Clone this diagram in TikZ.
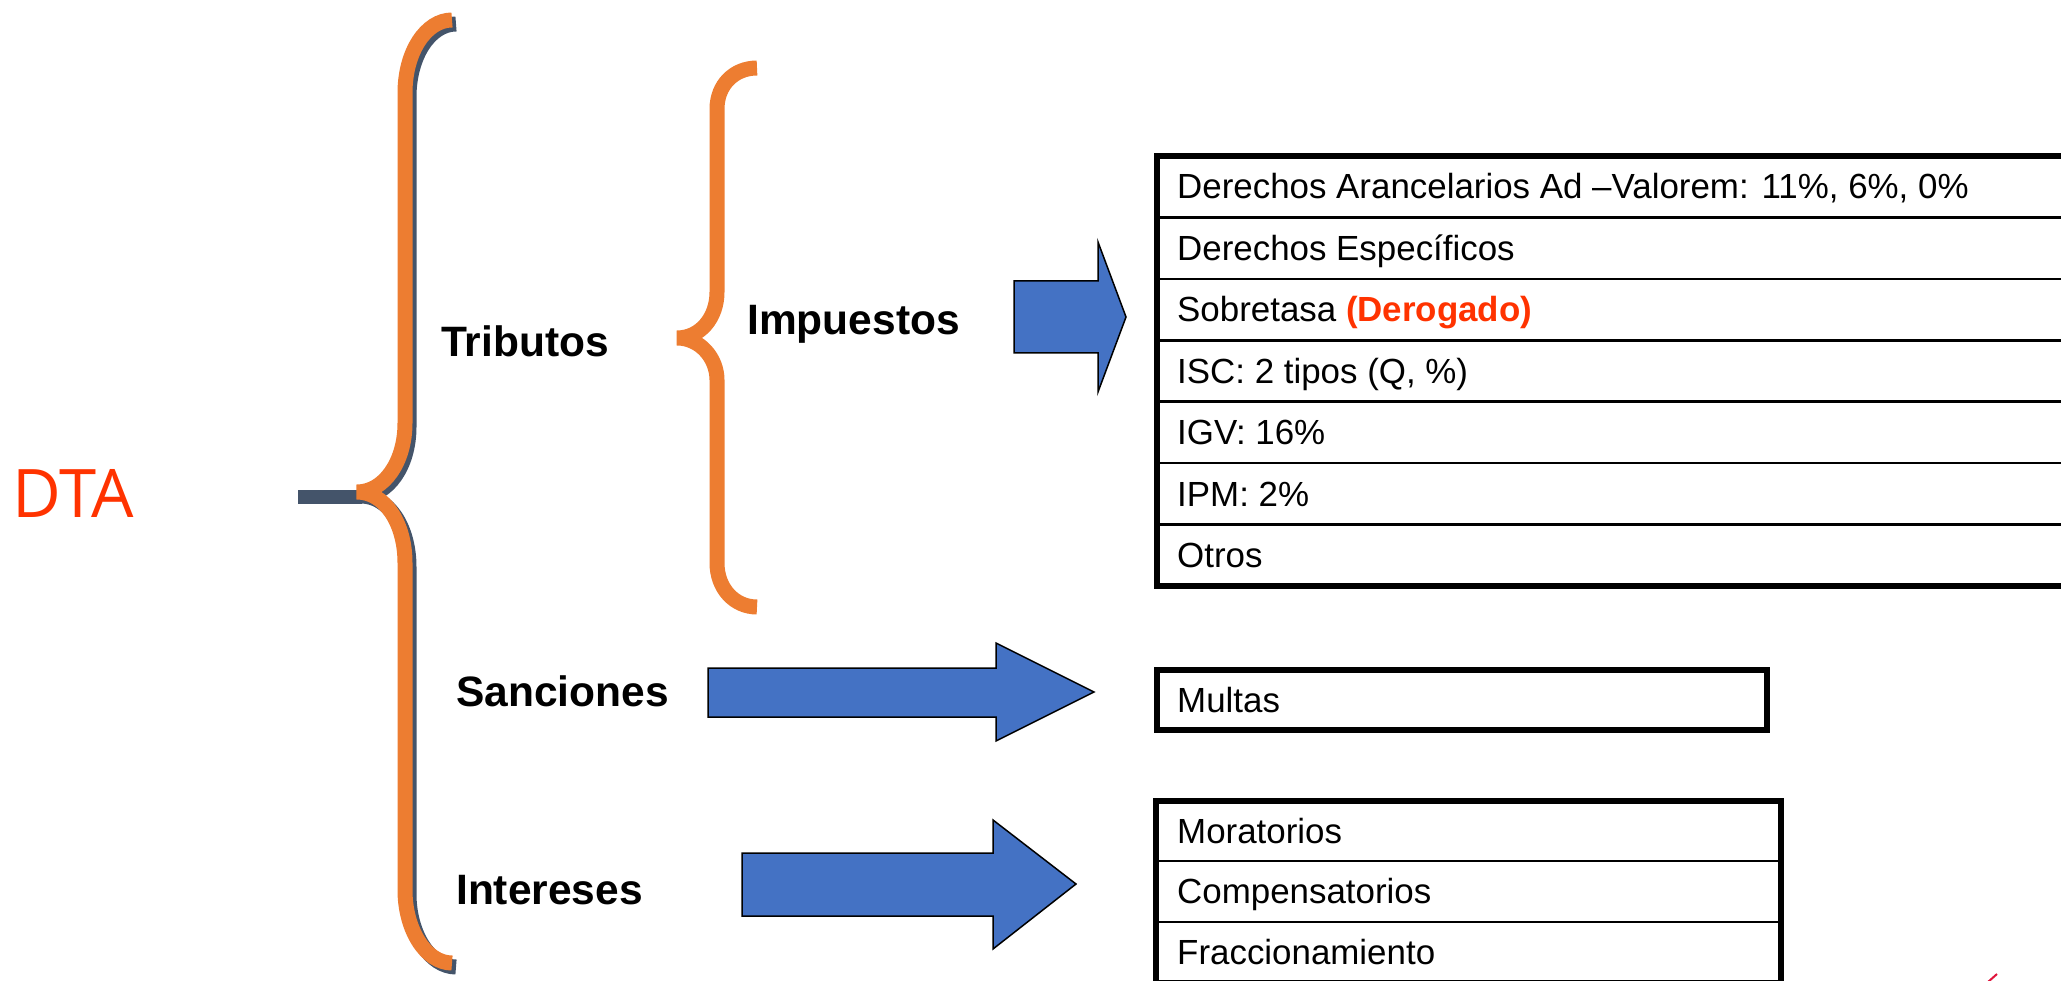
\documentclass[tikz,border=0pt]{standalone}
\usepackage{fontspec}
\setmainfont{Liberation Sans}
\newfontfamily\dtafont{Open Sans}
\definecolor{brOrange}{HTML}{ED7D31}
\definecolor{brDark}{HTML}{44546A}
\definecolor{arBlue}{HTML}{4472C4}
\definecolor{txtRed}{HTML}{FF3300}
\definecolor{markRed}{HTML}{E0143C}
\begin{document}
\begin{tikzpicture}[x=1pt,y=-1pt,
  bracepath/.style={line width=15pt, draw=brOrange, line cap=butt},
  braceshadow/.style={line width=15pt, draw=brDark, line cap=butt},
  blockarrow/.style={fill=arBlue, draw=black, line width=1.5pt, line join=miter},
  tblouter/.style={draw=black, line width=6pt},
  tblinner/.style={draw=black, line width=2.5pt},
  lbl/.style={font=\fontsize{42.5}{48}\selectfont\bfseries, anchor=base west, inner sep=0pt},
  cell/.style={font=\fontsize{34.9}{40}\selectfont, anchor=base west, inner sep=0pt}]
\useasboundingbox (0,0) rectangle (2061,981);
\clip (0,0) rectangle (2061,981);

% DTA
\node[anchor=base west, inner sep=0pt, text=txtRed, font=\dtafont\fontsize{67}{75}\selectfont] (dta) at (12,517) {DTA};

% stem line
\coordinate (stemL) at (298,497);
\coordinate (stemR) at (362,497);
\draw[line width=14pt, brDark] (stemL) -- (stemR);

% big brace shadow
\draw[braceshadow, shift={(4,4)}] (452,20) .. controls (426,20) and (405,52) .. (405,93) -- (405,423)
  .. controls (405,462) and (384,492) .. (357,492)
  .. controls (384,492) and (405,522) .. (405,563) -- (405,890)
  .. controls (405,930) and (426,963) .. (452,963);
% big brace
\draw[bracepath] (452,20) .. controls (426,20) and (405,52) .. (405,93) -- (405,423)
  .. controls (405,462) and (384,492) .. (357,492)
  .. controls (384,492) and (405,522) .. (405,563) -- (405,890)
  .. controls (405,930) and (426,963) .. (452,963);

% small brace
\draw[bracepath] (757,68) .. controls (734,68) and (717,85) .. (717,109) -- (717,292)
  .. controls (717,318) and (700,338) .. (677,338)
  .. controls (700,338) and (717,358) .. (717,380) -- (717,563)
  .. controls (717,588) and (734,607) .. (757,607);

% labels
\node[lbl] (trib) at (441,356) {Tributos};
\node[lbl] (imp) at (747,335) {Impuestos};
\node[lbl] (sanc) at (456,706) {Sanciones};
\node[lbl] (inte) at (456,904) {Intereses};

% block arrows
\draw[blockarrow] (1014,281) -- (1098,281) -- (1098,242) -- (1126,317) -- (1098,392) -- (1098,353) -- (1014,353) -- cycle;
\draw[blockarrow] (708,668) -- (996,668) -- (996,643) -- (1094,692) -- (996,741) -- (996,717) -- (708,717) -- cycle;
\draw[blockarrow] (742,853) -- (993,853) -- (993,820) -- (1076,884) -- (993,949) -- (993,916) -- (742,916) -- cycle;

% table 1
\foreach \yy in {217.4,278.9,340.3,401.7,463.1,524.6}{
  \draw[tblinner] (1157,\yy) -- (2080,\yy);
}
\draw[tblouter] (1157,156) rectangle (2080,586);
\node[cell] (r1) at (1177,199) {Derechos Arancelarios Ad –Valorem: 11\%, 6\%, 0\%};
\node[cell] (r2) at (1177,260.4) {Derechos Específicos};
\node[cell] (r3) at (1177,321.9) {Sobretasa {\bfseries\color{txtRed}(Derogado)}};
\node[cell] (r4) at (1177,383.3) {ISC: 2 tipos (Q, \%)};
\node[cell] (r5) at (1177,444.7) {IGV: 16\%};
\node[cell] (r6) at (1177,506.2) {IPM: 2\%};
\node[cell] (r7) at (1177,567.6) {Otros};

% Multas
\draw[tblouter] (1157,670) rectangle (1767,730);
\node[cell] (multas) at (1177,712) {Multas};

% table 3
\draw[tblinner] (1157,861) -- (1781,861);
\draw[tblinner] (1157,922) -- (1781,922);
\draw[tblouter] (1156,801) rectangle (1781,983);
\node[cell] (mor) at (1177,843) {Moratorios};
\node[cell] (comp) at (1177,903.5) {Compensatorios};
\node[cell] (frac) at (1177,964.5) {Fraccionamiento};

% small mark bottom right
\draw[markRed, line width=2pt] (1988,982) -- (1997,974);
\end{tikzpicture}
\end{document}
